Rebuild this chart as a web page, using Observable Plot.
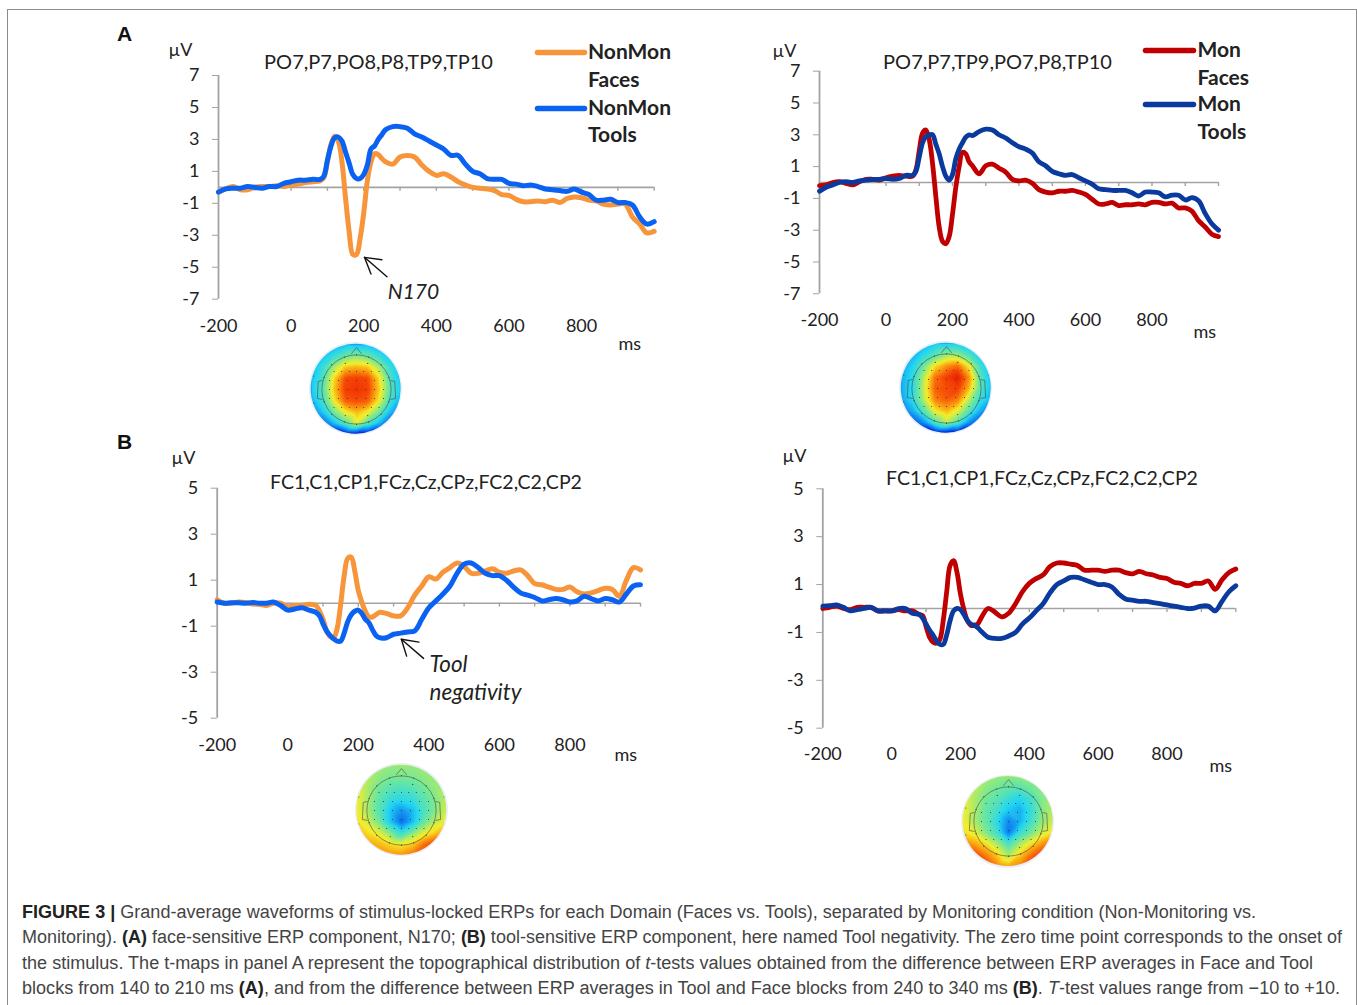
<!DOCTYPE html>
<html><head><meta charset="utf-8">
<script src="https://cdn.jsdelivr.net/npm/d3@7"></script>
<script src="https://cdn.jsdelivr.net/npm/@observablehq/plot@0.6"></script>
<style>
html,body{margin:0;padding:0;background:#fff}
#page{position:relative;width:1357px;height:1005px;overflow:hidden;background:#fff}
#page svg{position:absolute;overflow:visible;background:none}
#frame{position:absolute;left:7px;top:9px;width:1348px;height:1100px;border:1px solid #8c8c8c}
.letter{position:absolute;font:bold 21px "Liberation Sans",sans-serif;color:#111;line-height:1;transform:translateY(-50%)}
.cap{position:absolute;left:22px;white-space:nowrap;font:18px/1 "Liberation Sans",sans-serif;color:#444;transform-origin:0 50%}
.cap b{color:#222}
.halo{position:absolute;border-radius:50%;background:#e8eff9}
</style></head><body><div id="page"><div id="frame"></div></div>
<script>
// ---- data ----
const times = [-200,-180,-160,-140,-120,-100,-80,-60,-40,-20,0,20,40,60,80,
  90,100,110,120,130,140,150,160,170,180,190,200,210,220,230,240,250,260,
  280,300,320,340,360,380,400,420,440,460,480,500,520,540,560,580,600,620,640,660,680,700,720,740,760,780,800,820,840,860,880,900,920,940,960,980,1000];

const nonMonFacesA = [-.3,-.1,.05,-.15,-.15,0,.05,.05,.1,.05,.15,.2,.3,.35,.4,
  .6,1.6,2.7,3.2,2.9,1.6,-.7,-2.8,-4.2,-4.2,-3.2,-1.6,.4,1.6,2.1,2.05,1.8,1.6,
  1.45,1.9,2.0,1.9,1.4,1.0,.75,.85,.65,.35,.15,0,-.05,-.1,-.2,-.45,-.5,-.75,-.9,-.9,-.85,-.9,-.8,-.95,-.7,-.6,-.65,-.8,-.85,-1.05,-1.1,-1.05,-1.05,-1.85,-2.3,-2.85,-2.75];
const nonMonToolsA = [-.3,-.1,-.05,-.05,.05,0,-.05,.05,.05,.25,.35,.45,.45,.5,.5,
  .7,1.7,2.6,3.1,3.15,2.9,2.2,1.5,.8,.55,.55,.8,1.4,2.4,2.6,3.0,3.3,3.6,
  3.8,3.8,3.7,3.35,3.15,2.9,2.65,2.4,2.0,2.0,1.45,1.0,.85,.55,.5,.5,.25,.2,.1,.15,.05,-.1,-.15,-.2,-.25,-.1,-.3,-.45,-.8,-.8,-.75,-.95,-.95,-1.1,-1.85,-2.3,-2.15];
const monFacesA = [-.2,-.15,0,.05,-.05,-.15,.05,.2,.2,.15,.3,.4,.45,.4,.4,
  .8,2.0,3.1,3.3,2.7,1.2,-.9,-2.8,-3.7,-3.85,-3.4,-2.0,-.3,1.0,1.9,1.8,1.3,1.05,
  .55,1.05,1.15,.9,.65,.2,.1,.15,-.05,-.45,-.6,-.65,-.55,-.55,-.5,-.6,-.75,-1.05,-1.35,-1.35,-1.25,-1.45,-1.4,-1.4,-1.35,-1.4,-1.25,-1.25,-1.35,-1.3,-1.6,-1.6,-1.8,-2.4,-2.8,-3.25,-3.4];
const monToolsA = [-.55,-.3,-.15,0,.05,0,.1,.15,.2,.2,.25,.2,.25,.45,.45,
  .7,1.6,2.5,2.9,3.0,3.0,2.4,1.8,1.0,.4,.15,.5,1.5,2.1,2.5,2.85,3.0,2.95,
  3.2,3.35,3.3,3.0,2.8,2.5,2.25,2.1,1.85,1.3,1.05,.7,.55,.45,.5,.3,.1,-.1,-.4,-.45,-.5,-.5,-.5,-.65,-.85,-.6,-.6,-.65,-.9,-.8,-.8,-1.1,-.95,-1.15,-1.95,-2.6,-3.0];
const nonMonFacesB = [.15,0,0,.05,.03,-.03,-.05,-.1,0,0,-.15,-.1,-.1,-.05,-.1,
  -.35,-.7,-1.2,-1.45,-1.5,-1.1,-.05,1.2,1.95,2.0,1.4,.55,.05,-.35,-.6,-.6,-.5,-.4,
  -.45,-.55,-.55,-.2,.35,.75,1.15,1.05,1.35,1.55,1.75,1.6,1.3,1.3,1.4,1.5,1.35,1.3,1.4,1.45,1.2,.85,.8,.7,.6,.6,.7,.5,.4,.45,.55,.65,.6,.3,1.0,1.55,1.45];
const nonMonToolsB = [.05,0,.02,.02,0,.03,0,0,.05,-.1,-.3,-.25,-.2,-.3,-.4,
  -.55,-.9,-1.2,-1.4,-1.55,-1.65,-1.65,-1.3,-.8,-.5,-.35,-.3,-.45,-.7,-.85,-1.15,-1.4,-1.5,
  -1.5,-1.35,-1.3,-1.25,-1.2,-.7,-.2,.1,.4,.75,1.3,1.7,1.75,1.55,1.3,1.2,1.2,1.0,.7,.45,.35,.25,.1,.15,.2,.15,.05,.1,.3,.2,.1,.2,.15,.05,.4,.75,.8];
const monFacesB = [0,.05,.1,0,-.05,.05,.05,.05,-.1,-.1,-.1,-.05,-.1,-.1,-.25,
  -.3,-.75,-1.2,-1.4,-1.45,-1.3,-.5,.7,1.8,2.0,1.5,.6,-.05,-.5,-.7,-.7,-.65,-.4,
  0,-.15,-.35,-.2,.2,.7,1.05,1.25,1.4,1.75,1.9,1.9,1.85,1.8,1.6,1.6,1.6,1.55,1.6,1.6,1.5,1.45,1.55,1.45,1.4,1.3,1.25,1.1,1.05,.95,1.05,1.05,1.15,.8,1.2,1.5,1.65];
const monToolsB = [.1,.12,.15,.05,-.1,-.05,0,.05,-.1,-.1,-.1,0,0,-.2,-.25,
  -.4,-.65,-.9,-1.1,-1.35,-1.5,-1.5,-1.1,-.5,-.1,0,-.05,-.25,-.5,-.65,-.7,-.8,-.95,
  -1.2,-1.25,-1.25,-1.15,-1.0,-.65,-.4,-.1,.2,.65,1.0,1.15,1.3,1.3,1.2,1.1,1.0,1.0,.9,.6,.4,.35,.3,.3,.25,.2,.15,.1,.05,0,.02,.1,.1,-.1,.3,.7,.95];

const xLabels = [-200,0,200,400,600,800];
const xMinorTicks = [-200,-100,0,100,200,300,400,500,600,700,800,900,1000];
const yTicksA = [-7,-5,-3,-1,1,3,5,7];
const yTicksB = [-5,-3,-1,1,3,5];

const arrowShaftN170 = [[202,-4.38],[264,-5.6]];
const arrowHeadN170 = [[250,-4.53],[202,-4.38],[220,-5.43]];
const arrowShaftTool = [[322,-1.57],[385,-2.4]];
const arrowHeadTool = [[372,-1.69],[322,-1.57],[337,-2.3]];

// t-map samples, rows from front (+1) to back (-1), columns left (-1) to right (+1)
const mapAxis = [-1,-.75,-.5,-.25,0,.25,.5,.75,1];
const mapFacesNonMon = [
 [-7,-6.5,-5.5,-4.5,-4.5,-4.5,-5.5,-6.5,-7],
 [-6,-4.5,-2.5,-.5,.5,-.5,-2.5,-4.5,-6],
 [-5,-2.5,1.5,4.5,5,4.5,1.5,-2.5,-5],
 [-4.5,-1.5,4,8,8.5,8,4,-1.5,-4.5],
 [-4,-1,4.5,8.5,9,8.5,4.5,-1,-4],
 [-5,-2,3.5,7.5,8,7.5,3.5,-2,-5.5],
 [-7,-4,0,3.5,5,3.5,0,-4.5,-7],
 [-10,-8,-4.5,-1,3,-1,-4.5,-8.5,-10],
 [-12,-12,-12,-11,-11,-11,-12,-12,-12]];
const mapFacesMon = [
 [-7,-6,-5,-4,-4,-4,-5,-6,-7],
 [-6,-5,-3,-1,1,1,-1.5,-4,-6],
 [-5.5,-3.5,0,4,6,7,3.5,-2,-5],
 [-5,-3,2,7,8.5,10,6,-1,-4.5],
 [-5,-3,2.5,7.5,8,8.5,5,-1,-4.5],
 [-5.5,-3,2,6.5,7.5,6.5,2,-2.5,-5],
 [-7,-5,-1,3.5,5,3,-1,-5,-8],
 [-10,-8.5,-6,-1,2,-1,-6,-9,-10],
 [-12,-12,-12,-11,-11,-11,-12,-12,-12]];
const mapToolsNonMon = [
 [2.5,2,1.5,1,1,1,1.5,2,2],
 [3.5,2,.8,.3,.3,.3,.8,1.2,1.5],
 [3.5,1.5,0,-1,-1.5,-1,0,1,1.5],
 [3.5,1.5,-.8,-2.5,-3,-2.5,-1,.5,2],
 [3.5,1.5,-1,-4,-6,-4.5,-1.5,.5,2.5],
 [4,2.5,0,-4,-7.5,-4.5,-.5,2,3.5],
 [5,4,3,.5,-2.5,.5,3,4.5,6],
 [6,5.5,5,4,3.5,4.5,7,8.5,9],
 [7,7,6,6,6,7,8,9,9]];
const mapToolsMon = [
 [2.5,2,1.5,1,.8,1,1,1.5,2],
 [3.5,2,.8,0,-.5,-1,0,1,1.5],
 [3.5,1.5,0,-1,-2.5,-3.5,-2,.5,1.5],
 [3.5,1.5,-.5,-2,-4,-5,-2.5,.5,2],
 [3.5,1.5,-.5,-3,-6.5,-5,-2,1,2.5],
 [4,3,.5,-2,-7,-2.5,0,2.5,4],
 [6.5,5.5,4,1.5,-1.5,1.5,4,6,7],
 [9,8.5,6.5,4.5,1.5,4.5,7,9,10],
 [10,10,9,6.5,5.5,6.5,9,10,10]];
const jetValues = [-10,-7.5,-3.5,0,3.5,5.5,8,10];
const jetColors = ["#0018d8","#0a6cf0","#22d6f2","#70e89a","#f5ee2a","#faa512","#f74a06","#e81e00"];
const electrodes = [[-.25,.58],[.25,.58],
 [-.5,.4],[-.33,.4],[-.16,.4],[0,.4],[.16,.4],[.33,.4],[.5,.4],
 [-.6,.2],[-.4,.2],[-.2,.2],[0,.2],[.2,.2],[.4,.2],[.6,.2],
 [-.6,0],[-.4,0],[-.2,0],[0,0],[.2,0],[.4,0],[.6,0],
 [-.6,-.2],[-.4,-.2],[-.2,-.2],[0,-.2],[.2,-.2],[.4,-.2],[.6,-.2],
 [-.5,-.4],[-.33,-.4],[-.16,-.4],[0,-.4],[.16,-.4],[.33,-.4],[.5,-.4],
 [-.25,-.58],[.25,-.58],[0,.77],[-.27,.72],[.27,.72],[-.55,.55],[.55,.55],[-.72,.27],[.72,.27],
 [0,-.77],[-.27,-.72],[.27,-.72],[-.55,-.55],[.55,-.55],[-.72,-.27],[.72,-.27],
 [-.95,.3],[.95,.3],[-.95,-.3],[.95,-.3]];
const noseOutline = [[-.11,.8],[0,.93],[.11,.8]];
const earLeft = [[-.76,.2],[-.85,.18],[-.87,-.2],[-.76,-.22]];
const earRight = [[.76,.2],[.85,.18],[.87,-.2],[.76,-.22]];

const orange="#f7953b", blue="#0a62f2", red="#c00000", navy="#0b3a9e", gray="#a3a3a3", ink="#222";
const tickFont = '"Lato"';
const page = document.getElementById("page");

function panel(cfg){
  const {left,top,width,height,xAxis0,xAxis1,yTop,yBottom,yDomain,yTicks,tickDrop,xPad=20,series,notes,extra=[]} = cfg;
  const note = ([text,px,py,o={}]) => Plot.text([text],{frameAnchor:"top-left",dx:px-xAxis0,dy:py-yTop,textAnchor:"start",lineAnchor:"middle",fill:ink,...o});
  const svg = Plot.plot({
    width,height,
    marginLeft:xAxis0-left,marginRight:left+width-xAxis1,marginTop:yTop-top,marginBottom:top+height-yBottom,
    style:`font-family:${tickFont};font-size:18px;color:${ink}`,
    x:{domain:[-200,1000]},y:{domain:yDomain},
    marks:[
      Plot.ruleY([0],{stroke:gray,strokeWidth:1.6}),
      Plot.ruleX(xMinorTicks,{y1:0,y2:-tickDrop,stroke:gray,strokeWidth:1.4}),
      Plot.ruleX([-200],{stroke:gray,strokeWidth:1.8}),
      Plot.axisY({ticks:yTicks,tickSize:6,tickPadding:13,tickFormat:d=>String(d),label:null,stroke:gray,fill:ink}),
      Plot.axisX({ticks:xLabels,tickSize:0,tickPadding:xPad,tickFormat:d=>String(d),label:null,fill:ink}),
      ...series.map(([values,color,w])=>Plot.line(values,{x:(d,i)=>times[i],y:d=>d,stroke:color,strokeWidth:w,curve:"catmull-rom"})),
      ...extra,
      ...notes.map(note)
    ]
  });
  svg.style.left=left+"px";svg.style.top=top+"px";
  page.appendChild(svg);
}
const annotation = (shaft,head) => [
  Plot.line(shaft,{x:d=>d[0],y:d=>d[1],stroke:"#111",strokeWidth:1.4}),
  Plot.line(head,{x:d=>d[0],y:d=>d[1],stroke:"#111",strokeWidth:1.4})
];
const titleStyleA={fontSize:20};
const titleStyleB={fontSize:19.5};
const legendStyle={fontSize:21,fontWeight:"bold"};

panel({left:150,top:20,width:540,height:345,xAxis0:218,xAxis1:653.7,yTop:75,yBottom:298.7,yDomain:[-7,7],yTicks:yTicksA,tickDrop:.25,
  series:[[nonMonFacesA,orange,5],[nonMonToolsA,blue,5]],
  extra:[...annotation(arrowShaftN170,arrowHeadN170),
    Plot.text(["N170"],{x:[337],y:[-6.58],fontStyle:"italic",fontSize:21,fill:ink})],
  notes:[["µV",168,50],["PO7,P7,PO8,P8,TP9,TP10",378,62,{textAnchor:"middle",...titleStyleA}],
    ["NonMon",587.5,52,legendStyle],["Faces",587.5,79.5,legendStyle],["NonMon",587.5,108,legendStyle],["Tools",587.5,135,legendStyle],["ms",618,344]]
});
panel({left:760,top:20,width:520,height:345,xAxis0:819,xAxis1:1218,yTop:70.7,yBottom:293.3,yDomain:[-7,7],yTicks:yTicksA,tickDrop:.25,xPad:19,
  series:[[monFacesA,red,4.8],[monToolsA,navy,4.8]],
  notes:[["µV",772,51],["PO7,P7,TP9,PO7,P8,TP10",997,62,{textAnchor:"middle",...titleStyleA}],
    ["Mon",1197,50,legendStyle],["Faces",1197,78,legendStyle],["Mon",1197,104,legendStyle],["Tools",1197,132,legendStyle],["ms",1193,332]]
});
panel({left:150,top:440,width:540,height:330,xAxis0:216.7,xAxis1:640,yTop:487.7,yBottom:717.7,yDomain:[-5,5],yTicks:yTicksB,tickDrop:.17,
  series:[[nonMonFacesB,orange,5],[nonMonToolsB,blue,5]],
  extra:[...annotation(arrowShaftTool,arrowHeadTool),
    Plot.text(["Tool"],{x:[402],y:[-2.69],textAnchor:"start",fontStyle:"italic",fontSize:22.4,fill:ink}),
    Plot.text(["negativity"],{x:[402],y:[-3.9],textAnchor:"start",fontStyle:"italic",fontSize:22.4,fill:ink})],
  notes:[["µV",171,458],["FC1,C1,CP1,FCz,Cz,CPz,FC2,C2,CP2",425.5,482,{textAnchor:"middle",...titleStyleB}],["ms",614,755]]
});
panel({left:760,top:440,width:520,height:345,xAxis0:822.3,xAxis1:1235.3,yTop:488.3,yBottom:727.7,yDomain:[-5,5],yTicks:yTicksB,tickDrop:.17,xPad:19,
  series:[[monFacesB,red,4.8],[monToolsB,navy,4.8]],
  notes:[["µV",782,456],["FC1,C1,CP1,FCz,Cz,CPz,FC2,C2,CP2",1041.5,478,{textAnchor:"middle",...titleStyleB}],["ms",1209,766]]
});

// legend swatches
function swatch(x0,x1,y,color){
  const w=x1-x0;
  const s=Plot.plot({width:w+8,height:10,margin:0,marginLeft:4,marginRight:4,x:{domain:[0,1],axis:null},y:{domain:[0,1],axis:null},
    marks:[Plot.line([[0,.5],[1,.5]],{x:d=>d[0],y:d=>d[1],stroke:color,strokeWidth:5.5,strokeLinecap:"round"})]});
  s.style.left=(x0-4)+"px";s.style.top=(y-5)+"px";page.appendChild(s);
}
swatch(537,584,52,orange);swatch(537,584,107.7,blue);
swatch(1145,1193,50,red);swatch(1145,1193,104,navy);

// scalp maps
function topo(cx,cy,grid){
  const R=45, S=96, k=S/(2*R);
  const halo=document.createElement("div");halo.className="halo";
  halo.style.cssText=`left:${cx-R-1.5}px;top:${cy-R-1.5}px;width:${2*R+3}px;height:${2*R+3}px`;
  page.appendChild(halo);
  const pts=grid.flatMap((row,j)=>row.map((v,i)=>({x:mapAxis[i],y:-mapAxis[j],v})));
  const s=Plot.plot({width:S,height:S,margin:0,x:{domain:[-k,k],axis:null},y:{domain:[-k,k],axis:null},
    color:{type:"linear",domain:jetValues,range:jetColors,clamp:true},
    marks:[
      Plot.raster(pts,{x:"x",y:"y",fill:"v",interpolate:"barycentric",pixelSize:1}),
      Plot.dot([[0,0]],{x:d=>d[0],y:d=>d[1],r:R*.77,stroke:"#4a4a4a",strokeWidth:.6,fill:"none"}),
      Plot.line(noseOutline,{x:d=>d[0],y:d=>d[1],stroke:"#4a4a4a",strokeWidth:.6}),
      Plot.line(earLeft,{x:d=>d[0],y:d=>d[1],stroke:"#4a4a4a",strokeWidth:.6}),
      Plot.line(earRight,{x:d=>d[0],y:d=>d[1],stroke:"#4a4a4a",strokeWidth:.6}),
      Plot.dot(electrodes,{x:d=>d[0],y:d=>d[1],r:.55,fill:"#333"})
    ]});
  s.style.left=(cx-S/2)+"px";s.style.top=(cy-S/2)+"px";s.style.clipPath=`circle(${R}px)`;
  page.appendChild(s);
}
topo(355.7,388.7,mapFacesNonMon);
topo(945.8,387.7,mapFacesMon);
topo(401.3,809.7,mapToolsNonMon);
topo(1007.7,821,mapToolsMon);

// panel letters and caption
[["A",117,33],["B",117,441]].forEach(([t,x,y])=>{
  const d=document.createElement("div");d.className="letter";d.textContent=t;d.style.left=x+"px";d.style.top=y+"px";page.appendChild(d);
});
const captionLines=[
 '<b>FIGURE 3 |</b> Grand-average waveforms of stimulus-locked ERPs for each Domain (Faces vs. Tools), separated by Monitoring condition (Non-Monitoring vs.',
 'Monitoring). <b>(A)</b> face-sensitive ERP component, N170; <b>(B)</b> tool-sensitive ERP component, here named Tool negativity. The zero time point corresponds to the onset of',
 'the stimulus. The t-maps in panel A represent the topographical distribution of <i>t</i>-tests values obtained from the difference between ERP averages in Face and Tool',
 'blocks from 140 to 210 ms <b>(A)</b>, and from the difference between ERP averages in Tool and Face blocks from 240 to 340 ms <b>(B)</b>. <i>T</i>-test values range from −10 to +10.'];
const captionY=[912,937,962.5,988], captionRight=[1256,1342,1313,1340];
captionLines.forEach((h,i)=>{
  const d=document.createElement("div");d.className="cap";d.innerHTML=h;d.style.top=(captionY[i]-9)+"px";
  page.appendChild(d);
  d.style.transform=`scaleX(${(captionRight[i]-22)/d.getBoundingClientRect().width})`;
});
</script></body></html>
